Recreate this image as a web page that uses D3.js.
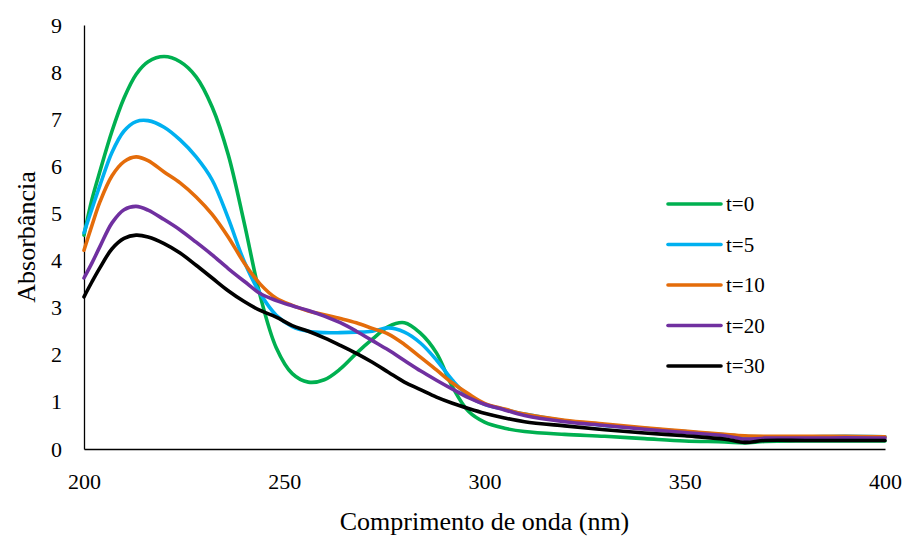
<!DOCTYPE html>
<html>
<head>
<meta charset="utf-8">
<script src="https://cdn.jsdelivr.net/npm/d3@7"></script>
<style>
  body { margin: 0; background: #fff; font-family: "Liberation Serif", "Times New Roman", serif; }
</style>
</head>
<body>
<div id="chart"></div>
<script>
// wavelengths (nm)
const wavelengths = [200, 202, 204, 207, 210, 213, 216, 220, 224, 228, 232, 236, 240, 244, 248, 252, 256, 260, 264, 268,
  272, 276, 280, 284, 288, 292, 296, 300, 305, 310, 320, 330, 340, 350, 360, 365, 370, 380, 390, 400];

const t0 = [4.54, 5.3, 5.9, 6.75, 7.45, 7.95, 8.22, 8.33, 8.22, 7.9, 7.26, 6.25, 4.8, 3.25, 2.15, 1.6, 1.42, 1.47, 1.7, 2.03,
  2.33, 2.6, 2.68, 2.46, 2.04, 1.32, 0.8, 0.57, 0.44, 0.37, 0.31, 0.27, 0.22, 0.17, 0.15, 0.13, 0.16, 0.17, 0.17, 0.17];
const t5 = [4.59, 5.1, 5.6, 6.3, 6.75, 6.95, 6.97, 6.83, 6.56, 6.2, 5.71, 4.9, 3.98, 3.3, 2.84, 2.6, 2.5, 2.47, 2.47, 2.48,
  2.5, 2.57, 2.48, 2.25, 1.89, 1.46, 1.12, 0.95, 0.84, 0.74, 0.6, 0.5, 0.44, 0.37, 0.3, 0.27, 0.26, 0.26, 0.27, 0.26];
const t10 = [4.22, 4.75, 5.25, 5.8, 6.1, 6.2, 6.12, 5.88, 5.65, 5.35, 4.98, 4.5, 3.95, 3.5, 3.2, 3.05, 2.93, 2.85, 2.77, 2.68,
  2.56, 2.44, 2.22, 1.95, 1.68, 1.4, 1.17, 0.97, 0.85, 0.74, 0.61, 0.53, 0.45, 0.38, 0.31, 0.28, 0.27, 0.27, 0.27, 0.26];
const t20 = [3.63, 3.95, 4.3, 4.8, 5.08, 5.15, 5.07, 4.87, 4.65, 4.39, 4.12, 3.83, 3.56, 3.3, 3.15, 3.04, 2.94, 2.82, 2.68, 2.5,
  2.3, 2.1, 1.88, 1.66, 1.46, 1.27, 1.09, 0.95, 0.83, 0.71, 0.58, 0.5, 0.42, 0.35, 0.28, 0.21, 0.23, 0.23, 0.24, 0.23];
const t30 = [3.23, 3.55, 3.85, 4.25, 4.47, 4.54, 4.5, 4.36, 4.16, 3.9, 3.63, 3.36, 3.13, 2.94, 2.8, 2.62, 2.5, 2.36, 2.2, 2.03,
  1.84, 1.63, 1.42, 1.26, 1.1, 0.97, 0.86, 0.76, 0.66, 0.58, 0.49, 0.41, 0.34, 0.28, 0.21, 0.14, 0.18, 0.18, 0.18, 0.18];

const seriesNames = ["t=0", "t=5", "t=10", "t=20", "t=30"];
const seriesColors = ["#00b050", "#00b0f0", "#e46c0a", "#7030a0", "#000000"];
const seriesValues = [t0, t5, t10, t20, t30];

const xTicks = [200, 250, 300, 350, 400];
const yTicks = [0, 1, 2, 3, 4, 5, 6, 7, 8, 9];

const serif = "'Liberation Serif', 'Times New Roman', serif";

const width = 907, height = 536;
const svg = d3.select("#chart").append("svg")
  .attr("width", width)
  .attr("height", height);

const x = d3.scaleLinear().domain([200, 400]).range([84, 885]);
const y = d3.scaleLinear().domain([0, 9]).range([449, 25]);

// axes, no tick marks
const yAxis = svg.append("g")
  .attr("transform", `translate(${x(200)},0)`)
  .call(d3.axisLeft(y).tickValues(yTicks).tickSize(0).tickPadding(22));
const xAxis = svg.append("g")
  .attr("transform", `translate(0,${y(0)})`)
  .call(d3.axisBottom(x).tickValues(xTicks).tickSize(0).tickPadding(24));

[yAxis, xAxis].forEach(g => {
  g.attr("font-family", null).attr("font-size", null);
  g.select(".domain").attr("stroke", "#000").attr("stroke-width", 1.3);
  g.selectAll("text")
    .attr("fill", "#000")
    .style("font-family", serif)
    .style("font-size", "22px");
});

// axis titles
svg.append("text")
  .attr("transform", `translate(35,${(y(0) + y(9)) / 2}) rotate(-90)`)
  .attr("text-anchor", "middle")
  .style("font-family", serif)
  .style("font-size", "26px")
  .text("Absorbância");

svg.append("text")
  .attr("x", (x(200) + x(400)) / 2)
  .attr("y", 530)
  .attr("text-anchor", "middle")
  .style("font-family", serif)
  .style("font-size", "26px")
  .text("Comprimento de onda (nm)");

// lines
const line = d3.line()
  .x(d => x(d[0]))
  .y(d => y(d[1]))
  .curve(d3.curveCatmullRom.alpha(0.5));

seriesValues.forEach((vals, i) => {
  const pts = wavelengths.map((w, j) => [w, vals[j]]);
  svg.append("path")
    .datum(pts)
    .attr("fill", "none")
    .attr("stroke", seriesColors[i])
    .attr("stroke-width", 3.6)
    .attr("stroke-linejoin", "round")
    .attr("stroke-linecap", "round")
    .attr("d", line);
});

// legend
const legend = svg.append("g");
seriesNames.forEach((name, i) => {
  const ly = 204 + i * 40.5;
  legend.append("line")
    .attr("x1", 668).attr("x2", 721)
    .attr("y1", ly).attr("y2", ly)
    .attr("stroke", seriesColors[i])
    .attr("stroke-width", 3.6)
    .attr("stroke-linecap", "round");
  legend.append("text")
    .attr("x", 726)
    .attr("y", ly + 7)
    .style("font-family", serif)
    .style("font-size", "21px")
    .text(name);
});
</script>
</body>
</html>
